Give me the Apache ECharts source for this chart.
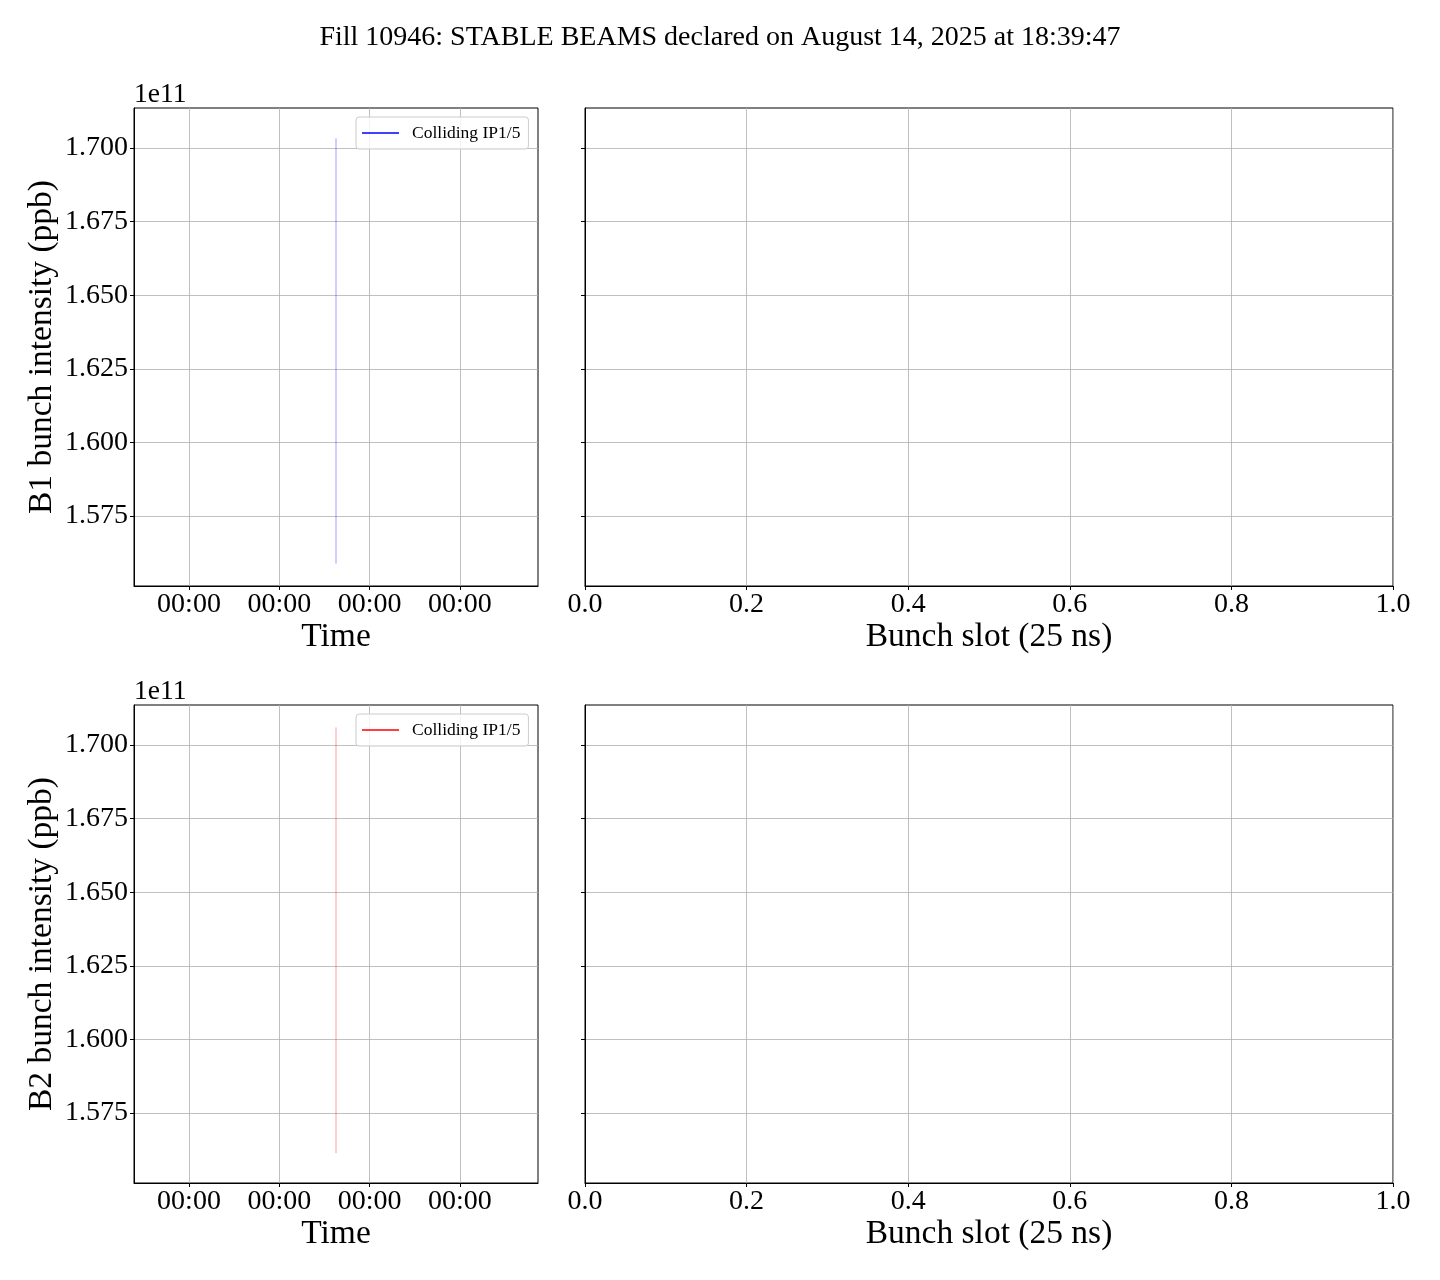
<!DOCTYPE html>
<html><head><meta charset="utf-8">
<script src="https://cdn.jsdelivr.net/npm/echarts@6/dist/echarts.min.js"></script>
<style>html,body{margin:0;padding:0;background:#fff}#c{width:1440px;height:1280px}</style>
</head><body><div id="c"></div>
<script>
// ---- data (intensities in units of 1e11 ppb) ----
const titleText = 'Fill 10946: STABLE BEAMS declared on August 14, 2025 at 18:39:47';
const timeTicks = [0, 1, 2, 3];            // time tick positions (axis units)
const timeTickLabels = ['00:00', '00:00', '00:00', '00:00'];
const timeRange = [-0.609, 3.865];
const yTicks = [1.575, 1.600, 1.625, 1.650, 1.675, 1.700];
const yRange = [1.5512, 1.7136];
const b1Time = [1.628, 1.628];
const b1Intensity = [1.5588, 1.7033];
const b2Time = [1.628, 1.628];
const b2Intensity = [1.5613, 1.7060];
const slotRange = [0, 1];
const seriesLabel = 'Colliding IP1/5';
const yNames = ['B1 bunch intensity (ppb)', 'B2 bunch intensity (ppb)'];

const FONT = 'Liberation Serif';
const chart = echarts.init(document.getElementById('c'));
const gridLine = {show: true, lineStyle: {color: '#b0b0b0', width: 0.8}};
const axLine = {show: true, onZero: false, lineStyle: {color: '#000', width: 1}};
const tick = {show: true, inside: false, length: 4, lineStyle: {color: '#000', width: 1}};
const TICKFS = 28, NAMEFS = 33.5;

const grids = [
  {left: 134, top: 108, width: 404, height: 478},
  {left: 585, top: 108, width: 808, height: 478},
  {left: 134, top: 705, width: 404, height: 478},
  {left: 585, top: 705, width: 808, height: 478}
].map(g => Object.assign(g, {show: true, borderColor: '#000', borderWidth: 1, backgroundColor: 'transparent', containLabel: false, outerBoundsMode: 'none'}));

const xAxes = [], yAxes = [];
[0, 2].forEach(gi => {
  xAxes.push({type: 'value', gridIndex: gi, min: timeRange[0], max: timeRange[1],
    axisLine: axLine, axisTick: Object.assign({}, tick, {customValues: timeTicks}),
    splitLine: gridLine,
    axisLabel: {customValues: timeTicks, margin: 5, color: '#000', fontFamily: FONT, fontSize: TICKFS,
      formatter: v => timeTickLabels[timeTicks.indexOf(Math.round(v))] || '00:00'},
    name: 'Time', nameLocation: 'middle', nameGap: 32,
    nameTextStyle: {fontFamily: FONT, fontSize: NAMEFS, color: '#000'}});
  xAxes.push({type: 'value', gridIndex: gi + 1, min: slotRange[0], max: slotRange[1], interval: 0.2,
    axisLine: axLine, axisTick: tick, splitLine: gridLine,
    axisLabel: {margin: 5, color: '#000', fontFamily: FONT, fontSize: TICKFS, formatter: v => v.toFixed(1)},
    name: 'Bunch slot (25 ns)', nameLocation: 'middle', nameGap: 32,
    nameTextStyle: {fontFamily: FONT, fontSize: NAMEFS, color: '#000'}});
});
[0, 1].forEach(r => {
  yAxes.push({type: 'value', gridIndex: r * 2, min: yRange[0], max: yRange[1],
    axisLine: axLine, axisTick: Object.assign({}, tick, {customValues: yTicks}), splitLine: gridLine,
    axisLabel: {customValues: yTicks, margin: 6, color: '#000', fontFamily: FONT, fontSize: TICKFS, formatter: v => v.toFixed(3)},
    name: yNames[r], nameLocation: 'middle', nameGap: 75, nameRotate: 90,
    nameTextStyle: {fontFamily: FONT, fontSize: NAMEFS, color: '#000'}});
  yAxes.push({type: 'value', gridIndex: r * 2 + 1, min: yRange[0], max: yRange[1],
    axisLine: axLine, axisTick: Object.assign({}, tick, {customValues: yTicks}), splitLine: gridLine,
    axisLabel: {show: false, customValues: yTicks}});
});

const mk = (xs, ys) => xs.map((x, i) => [x, ys[i]]);
const series = [
  {name: 'B1 ' + seriesLabel, type: 'line', xAxisIndex: 0, yAxisIndex: 0, data: mk(b1Time, b1Intensity),
    symbol: 'none', color: '#0000ff', lineStyle: {width: 1, opacity: 0.38}, animation: false},
  {name: 'B2 ' + seriesLabel, type: 'line', xAxisIndex: 2, yAxisIndex: 2, data: mk(b2Time, b2Intensity),
    symbol: 'none', color: '#ff0000', lineStyle: {width: 1, opacity: 0.38}, animation: false},
  {type: 'line', xAxisIndex: 1, yAxisIndex: 1, data: [], animation: false},
  {type: 'line', xAxisIndex: 3, yAxisIndex: 3, data: [], animation: false}
];

const legendBase = {orient: 'vertical', padding: [7, 8, 7, 6], itemWidth: 37, itemHeight: 1.5, icon: 'rect',
  borderColor: '#cccccc', borderWidth: 1, borderRadius: 3, backgroundColor: 'rgba(255,255,255,0.8)',
  textStyle: {fontFamily: FONT, fontSize: 17.5, color: '#000', padding: [0, 0, 0, 8]},
  selectedMode: false, formatter: () => seriesLabel};

chart.setOption({
  animation: false,
  backgroundColor: '#fff',
  title: {text: titleText, left: 'center', top: 19,
    textStyle: {fontFamily: FONT, fontSize: 28, fontWeight: 'normal', color: '#000'}},
  grid: grids, xAxis: xAxes, yAxis: yAxes, series: series,
  legend: [
    Object.assign({}, legendBase, {left: 356, top: 117,
      data: [{name: 'B1 ' + seriesLabel, itemStyle: {color: '#0000ff', opacity: 1}, lineStyle: {opacity: 1}}]}),
    Object.assign({}, legendBase, {left: 356, top: 714,
      data: [{name: 'B2 ' + seriesLabel, itemStyle: {color: '#ff0000', opacity: 1}, lineStyle: {opacity: 1}}]})
  ],
  graphic: [
    {type: 'text', left: 134, top: 81, style: {text: '1e11', fontFamily: FONT, fontSize: 27.5, fill: '#000'}},
    {type: 'text', left: 134, top: 678, style: {text: '1e11', fontFamily: FONT, fontSize: 27.5, fill: '#000'}}
  ]
});
</script></body></html>
